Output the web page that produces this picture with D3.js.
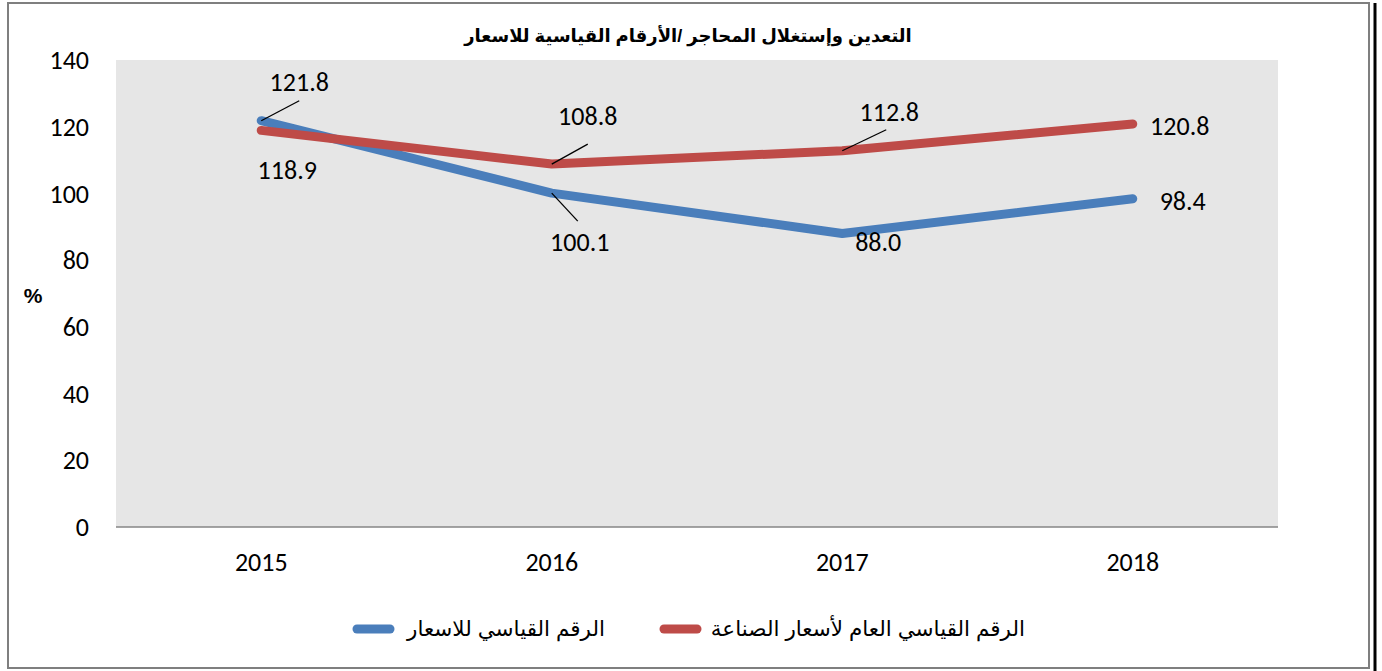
<!DOCTYPE html>
<html lang="ar">
<head>
<meta charset="utf-8">
<script src="https://cdn.jsdelivr.net/npm/d3@7"></script>
<style>
  html, body { margin: 0; padding: 0; background: #fff; }
  svg { display: block; }
  .tick-label { font-family: Carlito, Calibri, "Open Sans", sans-serif; font-size: 26px; fill: #000; }
  .data-label { font-family: Carlito, Calibri, "Open Sans", sans-serif; font-size: 26px; fill: #000; }
  .title { font-family: Arial, "Liberation Sans", "DejaVu Sans", sans-serif; font-size: 18px; font-weight: bold; }
  .legend-text { font-family: Arial, "Liberation Sans", "DejaVu Sans", sans-serif; font-size: 21.5px; }
</style>
</head>
<body>
<svg id="chart" width="1382" height="671"></svg>
<script>
// Mining & quarrying price indices, 2015-2018
const years = ["2015", "2016", "2017", "2018"];
const priceIndex = [121.8, 100.1, 88.0, 98.4];          // blue
const industryIndex = [118.9, 108.8, 112.8, 120.8];     // red
const yTicks = [0, 20, 40, 60, 80, 100, 120, 140];
const titleText = "التعدين وإستغلال المحاجر /الأرقام القياسية للاسعار";
const seriesNames = ["الرقم القياسي للاسعار", "الرقم القياسي العام لأسعار الصناعة"];

const BLUE = "#4a7ebb", RED = "#be4b48";
const plot = { left: 116, right: 1278, top: 60, bottom: 527 };

const svg = d3.select("#chart");

// outer frame
svg.append("rect").attr("x", 8).attr("y", 3).attr("width", 1361).attr("height", 665)
  .attr("fill", "#fff").attr("stroke", "#7f7f7f").attr("stroke-width", 2);
svg.append("line").attr("x1", 1375).attr("x2", 1375).attr("y1", 3).attr("y2", 671)
  .attr("stroke", "#000").attr("stroke-width", 3);

const x = d3.scaleBand().domain(years).range([plot.left, plot.right]);
const y = d3.scaleLinear().domain([0, 140]).range([plot.bottom, plot.top]);
const cx = (d) => x(d) + x.bandwidth() / 2;

// plot background
svg.append("rect").attr("x", plot.left).attr("y", plot.top)
  .attr("width", plot.right - plot.left).attr("height", plot.bottom - plot.top)
  .attr("fill", "#e6e6e6");

// x axis line
svg.append("line").attr("x1", plot.left).attr("x2", plot.right)
  .attr("y1", plot.bottom).attr("y2", plot.bottom)
  .attr("stroke", "#868686").attr("stroke-width", 1.5);

// y tick labels
svg.append("g").selectAll("text").data(yTicks).join("text")
  .attr("class", "tick-label").attr("x", 89).attr("y", (d) => y(d))
  .attr("dy", "0.35em").attr("text-anchor", "end").text((d) => d);

// x tick labels
svg.append("g").selectAll("text").data(years).join("text")
  .attr("class", "tick-label").attr("x", (d) => cx(d)).attr("y", 562)
  .attr("dy", "0.35em").attr("text-anchor", "middle").text((d) => d);

// % label
svg.append("text").attr("x", 33).attr("y", 296).attr("dy", "0.35em")
  .attr("text-anchor", "middle").style("font-family", "Arial, 'Liberation Sans', sans-serif")
  .style("font-size", "21px").style("font-weight", "bold").text("%");

// title
svg.append("text").attr("class", "title").attr("x", 688).attr("y", 42)
  .attr("text-anchor", "middle").attr("direction", "rtl").text(titleText);

// lines
const line = d3.line().x((d, i) => cx(years[i])).y((d) => y(d));
[[priceIndex, BLUE], [industryIndex, RED]].forEach(([vals, col]) => {
  svg.append("path").datum(vals).attr("d", line)
    .attr("fill", "none").attr("stroke", col).attr("stroke-width", 9)
    .attr("stroke-linecap", "round").attr("stroke-linejoin", "round");
});

// data labels: offsets relative to the point; leader = line end offset
const blueLabelPos = [
  { dx: 38, dy: -39, leader: [38, -20] },
  { dx: 28, dy: 49, leader: [26, 28] },
  { dx: 36, dy: 8, leader: null },
  { dx: 50, dy: 2, leader: null },
];
const redLabelPos = [
  { dx: 26, dy: 40, leader: null },
  { dx: 36, dy: -48, leader: [36, -20] },
  { dx: 47, dy: -39, leader: [44, -21] },
  { dx: 47, dy: 2, leader: null },
];
function labels(vals, pos) {
  const g = svg.append("g");
  vals.forEach((v, i) => {
    const px = cx(years[i]), py = y(v), p = pos[i];
    if (p.leader) {
      g.append("line").attr("x1", px).attr("y1", py)
        .attr("x2", px + p.leader[0]).attr("y2", py + p.leader[1])
        .attr("stroke", "#000").attr("stroke-width", 1.3);
    }
    g.append("text").attr("class", "data-label")
      .attr("x", px + p.dx).attr("y", py + p.dy).attr("dy", "0.35em")
      .attr("text-anchor", "middle").text(v.toFixed(1));
  });
}
labels(priceIndex, blueLabelPos);
labels(industryIndex, redLabelPos);

// legend
const legend = [
  { name: seriesNames[0], color: BLUE, x1: 357, x2: 390, tx: 605 },
  { name: seriesNames[1], color: RED, x1: 664, x2: 697, tx: 1025 },
];
const lg = svg.append("g");
legend.forEach((d) => {
  lg.append("line").attr("x1", d.x1).attr("x2", d.x2).attr("y1", 629).attr("y2", 629)
    .attr("stroke", d.color).attr("stroke-width", 9).attr("stroke-linecap", "round");
  lg.append("text").attr("class", "legend-text").attr("x", d.tx).attr("y", 628)
    .attr("dy", "0.35em").attr("direction", "rtl").attr("text-anchor", "start").text(d.name);
});
</script>
</body>
</html>
